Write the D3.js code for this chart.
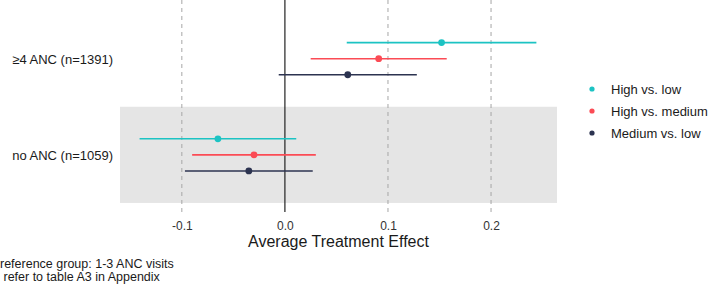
<!DOCTYPE html>
<html>
<head>
<meta charset="utf-8">
<script src="https://cdn.jsdelivr.net/npm/d3@7"></script>
<style>
  body { margin: 0; background: #fff; }
  text { font-family: "Liberation Sans", Arial, sans-serif; }
</style>
</head>
<body>
<svg id="chart" width="708" height="287"></svg>
<script>
// groups on the y axis (top to bottom)
const groups = ["≥4 ANC (n=1391)", "no ANC (n=1059)"];
const comparisons = ["High vs. low", "High vs. medium", "Medium vs. low"];
const colors = ["#1cc3c3", "#fb4b55", "#2c3350"];

// estimates and confidence limits, one array per comparison, in group order
const estHighLow = [0.152, -0.065];
const lowHighLow = [0.060, -0.141];
const highHighLow = [0.244, 0.011];

const estHighMed = [0.091, -0.030];
const lowHighMed = [0.025, -0.090];
const highHighMed = [0.157, 0.030];

const estMedLow = [0.061, -0.035];
const lowMedLow = [-0.006, -0.097];
const highMedLow = [0.128, 0.027];

const xTicks = [-0.1, 0.0, 0.1, 0.2];
const captionLines = ["reference group: 1-3 ANC visits", " refer to table A3 in Appendix"];

const series = [
  { est: estHighLow, lo: lowHighLow, hi: highHighLow },
  { est: estHighMed, lo: lowHighMed, hi: highHighMed },
  { est: estMedLow, lo: lowMedLow, hi: highMedLow }
];

const svg = d3.select("#chart");
const panel = { left: 120, right: 557, top: 0, bottom: 212 };

const x = d3.scaleLinear().domain([-0.16, 0.264]).range([panel.left, panel.right]);
// group index 0 is at position 2, index 1 at position 1
const y = d3.scaleLinear().domain([0.406, 2.61]).range([panel.bottom, panel.top]);
const offset = 0.167; // spacing between the three comparisons

// shaded band for the lower group
svg.append("rect")
  .attr("x", panel.left)
  .attr("width", panel.right - panel.left)
  .attr("y", y(1.5))
  .attr("height", y(0.5) - y(1.5))
  .attr("fill", "#e5e5e5");

// reference lines
svg.selectAll(".ref")
  .data(xTicks.filter(d => d !== 0))
  .enter().append("line")
  .attr("x1", d => x(d)).attr("x2", d => x(d))
  .attr("y1", panel.top).attr("y2", panel.bottom)
  .attr("stroke", "#a6a6a6")
  .attr("stroke-width", 1)
  .attr("stroke-dasharray", "4,4");

svg.append("line")
  .attr("x1", x(0)).attr("x2", x(0))
  .attr("y1", panel.top).attr("y2", panel.bottom)
  .attr("stroke", "#222")
  .attr("stroke-width", 1.2);

// error bars and points
series.forEach((s, i) => {
  const g = svg.append("g");
  groups.forEach((grp, j) => {
    const yy = y(2 - j + offset * (1 - i));
    g.append("line")
      .attr("x1", x(s.lo[j])).attr("x2", x(s.hi[j]))
      .attr("y1", yy).attr("y2", yy)
      .attr("stroke", colors[i])
      .attr("stroke-width", 1.6);
    g.append("circle")
      .attr("cx", x(s.est[j])).attr("cy", yy)
      .attr("r", 3.4)
      .attr("fill", colors[i]);
  });
});

// x axis labels (plain hyphen for negatives, as in the original)
const fmt = d3.format(".1f");
const xAxis = d3.axisBottom(x)
  .tickValues(xTicks)
  .tickFormat(d => fmt(d).replace("−", "-"))
  .tickSize(0)
  .tickPadding(9);
const axisG = svg.append("g")
  .attr("transform", `translate(0,${panel.bottom})`)
  .call(xAxis);
axisG.select(".domain").remove();
axisG.selectAll("text")
  .attr("font-size", 12)
  .attr("fill", "#333")
  .style("font-family", "Liberation Sans, Arial, sans-serif");

svg.append("text")
  .attr("x", (panel.left + panel.right) / 2)
  .attr("y", 247)
  .attr("text-anchor", "middle")
  .attr("font-size", 16)
  .attr("fill", "#1a1a1a")
  .text("Average Treatment Effect");

// group labels
svg.selectAll(".grp")
  .data(groups)
  .enter().append("text")
  .attr("x", 113)
  .attr("y", (d, j) => y(2 - j) + 1)
  .attr("dy", "0.35em")
  .attr("text-anchor", "end")
  .attr("font-size", 13)
  .attr("fill", "#1a1a1a")
  .text(d => d);

// legend
const legend = svg.append("g").attr("transform", "translate(592,89)");
comparisons.forEach((c, i) => {
  legend.append("circle")
    .attr("cx", 0).attr("cy", i * 22)
    .attr("r", 2.6)
    .attr("fill", colors[i]);
  legend.append("text")
    .attr("x", 19).attr("y", i * 22)
    .attr("dy", "0.35em")
    .attr("font-size", 13)
    .attr("fill", "#1a1a1a")
    .text(c);
});

// caption
svg.selectAll(".cap")
  .data(captionLines)
  .enter().append("text")
  .attr("x", 0)
  .attr("y", (d, i) => 268 + i * 12.5)
  .attr("font-size", 12.5)
  .attr("fill", "#1a1a1a")
  .style("white-space", "pre")
  .text(d => d);
</script>
</body>
</html>
